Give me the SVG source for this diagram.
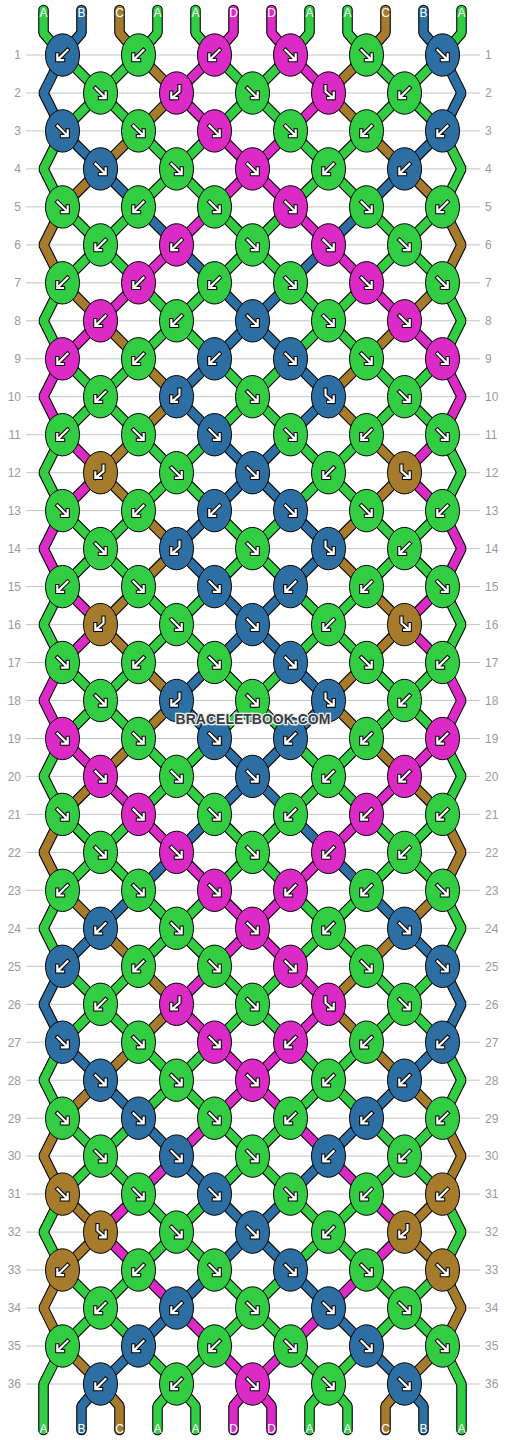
<svg xmlns="http://www.w3.org/2000/svg" xmlns:xlink="http://www.w3.org/1999/xlink" width="506" height="1440" viewBox="0 0 506 1440">
<style>
.grid line{stroke:#c4c4c4;stroke-width:1}
.rl{font-family:"Liberation Sans",Arial,sans-serif;font-size:12px;fill:#9a9a9a}
.rl.l{text-anchor:end}
.sl{font-family:"Liberation Sans",Arial,sans-serif;font-size:12px;fill:#fff;text-anchor:middle}
.so{fill:none;stroke:#000;stroke-width:10.6;stroke-linejoin:bevel;stroke-linecap:round}
.s{fill:none;stroke-width:8.4;stroke-linejoin:bevel;stroke-linecap:round}
.sA{stroke:#32cd43}.sB{stroke:#2e6fa3}.sC{stroke:#a67c2c}.sD{stroke:#dc2ac7}
.g{fill:#32cd43}.b{fill:#2e6fa3}.c{fill:#a67c2c}.d{fill:#dc2ac7}
.ke{stroke:#000;stroke-width:1}
.ao{fill:none;stroke:#000;stroke-width:4.2;stroke-linecap:square}
.aw{fill:none;stroke:#fff;stroke-width:2.2;stroke-linecap:square}
.wm{font-family:"Liberation Sans",Arial,sans-serif;font-weight:bold;font-size:14px;fill:#3c3c3c;stroke:#eef3f8;stroke-width:2.6;paint-order:stroke;text-anchor:middle}
</style>
<defs>
<ellipse id="e" class="ke" rx="17" ry="21.2"/>
<path id="pF" d="M-5,-5L4.6,4.6M5.2,-0.6V5.2H-0.6"/>
<path id="pB" d="M5,-5L-4.6,4.6M-5.2,-0.6V5.2H0.6"/>
<path id="pFB" d="M-3,-7V-1.5L4.6,5M5.2,-0.4V5.2H-0.4"/>
<path id="pBF" d="M3,-7V-1.5L-4.6,5M-5.2,-0.4V5.2H0.4"/>
<g id="F"><use href="#pF" class="ao"/><use href="#pF" class="aw"/></g>
<g id="B"><use href="#pB" class="ao"/><use href="#pB" class="aw"/></g>
<g id="FB"><use href="#pFB" class="ao"/><use href="#pFB" class="aw"/></g>
<g id="BF"><use href="#pBF" class="ao"/><use href="#pBF" class="aw"/></g>
<path id="p0" d="M43.5,10V33L62.5,55L442.5,434.7L461.5,472.7L442.5,510.6L62.5,890.3L43.5,928.3L62.5,966.3L442.5,1346L461.5,1384V1430"/>
<path id="p1" d="M81.5,10V33L62.5,55L43.5,93L62.5,130.9L328.5,396.7L176.5,548.6L328.5,700.5L62.5,966.3L43.5,1004.3L62.5,1042.2L404.5,1384L423.5,1406V1430"/>
<path id="p2" d="M119.5,10V33L138.5,55L176.5,93L62.5,206.9L43.5,244.9L62.5,282.8L176.5,396.7L100.5,472.7L176.5,548.6L100.5,624.6L176.5,700.5L62.5,814.4L43.5,852.4L62.5,890.3L176.5,1004.3L62.5,1118.2L43.5,1156.1L62.5,1194.1L100.5,1232.1L62.5,1270L43.5,1308L62.5,1346L100.5,1384L119.5,1406V1430"/>
<path id="p3" d="M157.5,10V33L138.5,55L62.5,130.9L43.5,168.9L62.5,206.9L442.5,586.6L461.5,624.6L442.5,662.5L62.5,1042.2L43.5,1080.2L62.5,1118.2L328.5,1384L347.5,1406V1430"/>
<path id="p4" d="M195.5,10V33L214.5,55L442.5,282.8L461.5,320.8L442.5,358.8L62.5,738.5L43.5,776.4L62.5,814.4L442.5,1194.1L461.5,1232.1L442.5,1270L328.5,1384L309.5,1406V1430"/>
<path id="p5" d="M233.5,10V33L214.5,55L176.5,93L214.5,130.9L442.5,358.8L461.5,396.7L442.5,434.7L404.5,472.7L442.5,510.6L461.5,548.6L442.5,586.6L404.5,624.6L442.5,662.5L461.5,700.5L442.5,738.5L176.5,1004.3L404.5,1232.1L252.5,1384L233.5,1406V1430"/>
<path id="p6" d="M271.5,10V33L290.5,55L328.5,93L62.5,358.8L43.5,396.7L62.5,434.7L100.5,472.7L62.5,510.6L43.5,548.6L62.5,586.6L100.5,624.6L62.5,662.5L43.5,700.5L62.5,738.5L328.5,1004.3L100.5,1232.1L252.5,1384L271.5,1406V1430"/>
<path id="p7" d="M309.5,10V33L290.5,55L62.5,282.8L43.5,320.8L62.5,358.8L442.5,738.5L461.5,776.4L442.5,814.4L62.5,1194.1L43.5,1232.1L62.5,1270L176.5,1384L195.5,1406V1430"/>
<path id="p8" d="M347.5,10V33L366.5,55L442.5,130.9L461.5,168.9L442.5,206.9L62.5,586.6L43.5,624.6L62.5,662.5L442.5,1042.2L461.5,1080.2L442.5,1118.2L176.5,1384L157.5,1406V1430"/>
<path id="p9" d="M385.5,10V33L366.5,55L328.5,93L442.5,206.9L461.5,244.9L442.5,282.8L328.5,396.7L404.5,472.7L328.5,548.6L404.5,624.6L328.5,700.5L442.5,814.4L461.5,852.4L442.5,890.3L328.5,1004.3L442.5,1118.2L461.5,1156.1L442.5,1194.1L404.5,1232.1L442.5,1270L461.5,1308L442.5,1346L404.5,1384L385.5,1406V1430"/>
<path id="p10" d="M423.5,10V33L442.5,55L461.5,93L442.5,130.9L176.5,396.7L328.5,548.6L176.5,700.5L442.5,966.3L461.5,1004.3L442.5,1042.2L100.5,1384L81.5,1406V1430"/>
<path id="p11" d="M461.5,10V33L442.5,55L62.5,434.7L43.5,472.7L62.5,510.6L442.5,890.3L461.5,928.3L442.5,966.3L62.5,1346L43.5,1384V1430"/>
</defs>
<rect width="506" height="1440" fill="#fff"/>
<g class="grid">
<line x1="26" x2="480" y1="55" y2="55"/><line x1="26" x2="480" y1="93" y2="93"/><line x1="26" x2="480" y1="130.9" y2="130.9"/><line x1="26" x2="480" y1="168.9" y2="168.9"/><line x1="26" x2="480" y1="206.9" y2="206.9"/><line x1="26" x2="480" y1="244.9" y2="244.9"/><line x1="26" x2="480" y1="282.8" y2="282.8"/><line x1="26" x2="480" y1="320.8" y2="320.8"/><line x1="26" x2="480" y1="358.8" y2="358.8"/><line x1="26" x2="480" y1="396.7" y2="396.7"/><line x1="26" x2="480" y1="434.7" y2="434.7"/><line x1="26" x2="480" y1="472.7" y2="472.7"/><line x1="26" x2="480" y1="510.6" y2="510.6"/><line x1="26" x2="480" y1="548.6" y2="548.6"/><line x1="26" x2="480" y1="586.6" y2="586.6"/><line x1="26" x2="480" y1="624.6" y2="624.6"/><line x1="26" x2="480" y1="662.5" y2="662.5"/><line x1="26" x2="480" y1="700.5" y2="700.5"/><line x1="26" x2="480" y1="738.5" y2="738.5"/><line x1="26" x2="480" y1="776.4" y2="776.4"/><line x1="26" x2="480" y1="814.4" y2="814.4"/><line x1="26" x2="480" y1="852.4" y2="852.4"/><line x1="26" x2="480" y1="890.3" y2="890.3"/><line x1="26" x2="480" y1="928.3" y2="928.3"/><line x1="26" x2="480" y1="966.3" y2="966.3"/><line x1="26" x2="480" y1="1004.3" y2="1004.3"/><line x1="26" x2="480" y1="1042.2" y2="1042.2"/><line x1="26" x2="480" y1="1080.2" y2="1080.2"/><line x1="26" x2="480" y1="1118.2" y2="1118.2"/><line x1="26" x2="480" y1="1156.1" y2="1156.1"/><line x1="26" x2="480" y1="1194.1" y2="1194.1"/><line x1="26" x2="480" y1="1232.1" y2="1232.1"/><line x1="26" x2="480" y1="1270" y2="1270"/><line x1="26" x2="480" y1="1308" y2="1308"/><line x1="26" x2="480" y1="1346" y2="1346"/><line x1="26" x2="480" y1="1384" y2="1384"/>
</g>
<g id="row-labels">
<text class="rl l" x="21" y="59.3">1</text><text class="rl" x="485" y="59.3">1</text>
<text class="rl l" x="21" y="97.3">2</text><text class="rl" x="485" y="97.3">2</text>
<text class="rl l" x="21" y="135.2">3</text><text class="rl" x="485" y="135.2">3</text>
<text class="rl l" x="21" y="173.2">4</text><text class="rl" x="485" y="173.2">4</text>
<text class="rl l" x="21" y="211.2">5</text><text class="rl" x="485" y="211.2">5</text>
<text class="rl l" x="21" y="249.2">6</text><text class="rl" x="485" y="249.2">6</text>
<text class="rl l" x="21" y="287.1">7</text><text class="rl" x="485" y="287.1">7</text>
<text class="rl l" x="21" y="325.1">8</text><text class="rl" x="485" y="325.1">8</text>
<text class="rl l" x="21" y="363.1">9</text><text class="rl" x="485" y="363.1">9</text>
<text class="rl l" x="21" y="401">10</text><text class="rl" x="485" y="401">10</text>
<text class="rl l" x="21" y="439">11</text><text class="rl" x="485" y="439">11</text>
<text class="rl l" x="21" y="477">12</text><text class="rl" x="485" y="477">12</text>
<text class="rl l" x="21" y="514.9">13</text><text class="rl" x="485" y="514.9">13</text>
<text class="rl l" x="21" y="552.9">14</text><text class="rl" x="485" y="552.9">14</text>
<text class="rl l" x="21" y="590.9">15</text><text class="rl" x="485" y="590.9">15</text>
<text class="rl l" x="21" y="628.9">16</text><text class="rl" x="485" y="628.9">16</text>
<text class="rl l" x="21" y="666.8">17</text><text class="rl" x="485" y="666.8">17</text>
<text class="rl l" x="21" y="704.8">18</text><text class="rl" x="485" y="704.8">18</text>
<text class="rl l" x="21" y="742.8">19</text><text class="rl" x="485" y="742.8">19</text>
<text class="rl l" x="21" y="780.7">20</text><text class="rl" x="485" y="780.7">20</text>
<text class="rl l" x="21" y="818.7">21</text><text class="rl" x="485" y="818.7">21</text>
<text class="rl l" x="21" y="856.7">22</text><text class="rl" x="485" y="856.7">22</text>
<text class="rl l" x="21" y="894.6">23</text><text class="rl" x="485" y="894.6">23</text>
<text class="rl l" x="21" y="932.6">24</text><text class="rl" x="485" y="932.6">24</text>
<text class="rl l" x="21" y="970.6">25</text><text class="rl" x="485" y="970.6">25</text>
<text class="rl l" x="21" y="1008.6">26</text><text class="rl" x="485" y="1008.6">26</text>
<text class="rl l" x="21" y="1046.5">27</text><text class="rl" x="485" y="1046.5">27</text>
<text class="rl l" x="21" y="1084.5">28</text><text class="rl" x="485" y="1084.5">28</text>
<text class="rl l" x="21" y="1122.5">29</text><text class="rl" x="485" y="1122.5">29</text>
<text class="rl l" x="21" y="1160.4">30</text><text class="rl" x="485" y="1160.4">30</text>
<text class="rl l" x="21" y="1198.4">31</text><text class="rl" x="485" y="1198.4">31</text>
<text class="rl l" x="21" y="1236.4">32</text><text class="rl" x="485" y="1236.4">32</text>
<text class="rl l" x="21" y="1274.3">33</text><text class="rl" x="485" y="1274.3">33</text>
<text class="rl l" x="21" y="1312.3">34</text><text class="rl" x="485" y="1312.3">34</text>
<text class="rl l" x="21" y="1350.3">35</text><text class="rl" x="485" y="1350.3">35</text>
<text class="rl l" x="21" y="1388.3">36</text><text class="rl" x="485" y="1388.3">36</text>
</g>
<g id="connectors">
<g id="string-1"><use href="#p0" class="so"/><use href="#p0" class="s sA"/></g>
<g id="string-2"><use href="#p1" class="so"/><use href="#p1" class="s sB"/></g>
<g id="string-3"><use href="#p2" class="so"/><use href="#p2" class="s sC"/></g>
<g id="string-4"><use href="#p3" class="so"/><use href="#p3" class="s sA"/></g>
<g id="string-5"><use href="#p4" class="so"/><use href="#p4" class="s sA"/></g>
<g id="string-6"><use href="#p5" class="so"/><use href="#p5" class="s sD"/></g>
<g id="string-7"><use href="#p6" class="so"/><use href="#p6" class="s sD"/></g>
<g id="string-8"><use href="#p7" class="so"/><use href="#p7" class="s sA"/></g>
<g id="string-9"><use href="#p8" class="so"/><use href="#p8" class="s sA"/></g>
<g id="string-10"><use href="#p9" class="so"/><use href="#p9" class="s sC"/></g>
<g id="string-11"><use href="#p10" class="so"/><use href="#p10" class="s sB"/></g>
<g id="string-12"><use href="#p11" class="so"/><use href="#p11" class="s sA"/></g>
</g>
<g id="string-labels">
<text class="sl" x="43.5" y="17">A</text><text class="sl" x="81.5" y="17">B</text><text class="sl" x="119.5" y="17">C</text><text class="sl" x="157.5" y="17">A</text><text class="sl" x="195.5" y="17">A</text><text class="sl" x="233.5" y="17">D</text><text class="sl" x="271.5" y="17">D</text><text class="sl" x="309.5" y="17">A</text><text class="sl" x="347.5" y="17">A</text><text class="sl" x="385.5" y="17">C</text><text class="sl" x="423.5" y="17">B</text><text class="sl" x="461.5" y="17">A</text>
<text class="sl" x="43.5" y="1432.5">A</text><text class="sl" x="81.5" y="1432.5">B</text><text class="sl" x="119.5" y="1432.5">C</text><text class="sl" x="157.5" y="1432.5">A</text><text class="sl" x="195.5" y="1432.5">A</text><text class="sl" x="233.5" y="1432.5">D</text><text class="sl" x="271.5" y="1432.5">D</text><text class="sl" x="309.5" y="1432.5">A</text><text class="sl" x="347.5" y="1432.5">A</text><text class="sl" x="385.5" y="1432.5">C</text><text class="sl" x="423.5" y="1432.5">B</text><text class="sl" x="461.5" y="1432.5">A</text>
</g>
<g id="knots">
<g id="k1-1" class="b" transform="translate(62.5 55)"><use href="#e"/><use href="#B"/></g>
<g id="k1-2" class="g" transform="translate(138.5 55)"><use href="#e"/><use href="#B"/></g>
<g id="k1-3" class="d" transform="translate(214.5 55)"><use href="#e"/><use href="#B"/></g>
<g id="k1-4" class="d" transform="translate(290.5 55)"><use href="#e"/><use href="#F"/></g>
<g id="k1-5" class="g" transform="translate(366.5 55)"><use href="#e"/><use href="#F"/></g>
<g id="k1-6" class="b" transform="translate(442.5 55)"><use href="#e"/><use href="#F"/></g>
<g id="k2-1" class="g" transform="translate(100.5 93)"><use href="#e"/><use href="#F"/></g>
<g id="k2-2" class="d" transform="translate(176.5 93)"><use href="#e"/><use href="#BF"/></g>
<g id="k2-3" class="g" transform="translate(252.5 93)"><use href="#e"/><use href="#F"/></g>
<g id="k2-4" class="d" transform="translate(328.5 93)"><use href="#e"/><use href="#FB"/></g>
<g id="k2-5" class="g" transform="translate(404.5 93)"><use href="#e"/><use href="#B"/></g>
<g id="k3-1" class="b" transform="translate(62.5 130.9)"><use href="#e"/><use href="#F"/></g>
<g id="k3-2" class="g" transform="translate(138.5 130.9)"><use href="#e"/><use href="#F"/></g>
<g id="k3-3" class="d" transform="translate(214.5 130.9)"><use href="#e"/><use href="#F"/></g>
<g id="k3-4" class="g" transform="translate(290.5 130.9)"><use href="#e"/><use href="#F"/></g>
<g id="k3-5" class="g" transform="translate(366.5 130.9)"><use href="#e"/><use href="#B"/></g>
<g id="k3-6" class="b" transform="translate(442.5 130.9)"><use href="#e"/><use href="#B"/></g>
<g id="k4-1" class="b" transform="translate(100.5 168.9)"><use href="#e"/><use href="#F"/></g>
<g id="k4-2" class="g" transform="translate(176.5 168.9)"><use href="#e"/><use href="#F"/></g>
<g id="k4-3" class="d" transform="translate(252.5 168.9)"><use href="#e"/><use href="#F"/></g>
<g id="k4-4" class="g" transform="translate(328.5 168.9)"><use href="#e"/><use href="#B"/></g>
<g id="k4-5" class="b" transform="translate(404.5 168.9)"><use href="#e"/><use href="#B"/></g>
<g id="k5-1" class="g" transform="translate(62.5 206.9)"><use href="#e"/><use href="#F"/></g>
<g id="k5-2" class="g" transform="translate(138.5 206.9)"><use href="#e"/><use href="#B"/></g>
<g id="k5-3" class="g" transform="translate(214.5 206.9)"><use href="#e"/><use href="#F"/></g>
<g id="k5-4" class="d" transform="translate(290.5 206.9)"><use href="#e"/><use href="#F"/></g>
<g id="k5-5" class="g" transform="translate(366.5 206.9)"><use href="#e"/><use href="#F"/></g>
<g id="k5-6" class="g" transform="translate(442.5 206.9)"><use href="#e"/><use href="#B"/></g>
<g id="k6-1" class="g" transform="translate(100.5 244.9)"><use href="#e"/><use href="#B"/></g>
<g id="k6-2" class="d" transform="translate(176.5 244.9)"><use href="#e"/><use href="#B"/></g>
<g id="k6-3" class="g" transform="translate(252.5 244.9)"><use href="#e"/><use href="#F"/></g>
<g id="k6-4" class="d" transform="translate(328.5 244.9)"><use href="#e"/><use href="#F"/></g>
<g id="k6-5" class="g" transform="translate(404.5 244.9)"><use href="#e"/><use href="#F"/></g>
<g id="k7-1" class="g" transform="translate(62.5 282.8)"><use href="#e"/><use href="#B"/></g>
<g id="k7-2" class="d" transform="translate(138.5 282.8)"><use href="#e"/><use href="#B"/></g>
<g id="k7-3" class="g" transform="translate(214.5 282.8)"><use href="#e"/><use href="#B"/></g>
<g id="k7-4" class="g" transform="translate(290.5 282.8)"><use href="#e"/><use href="#F"/></g>
<g id="k7-5" class="d" transform="translate(366.5 282.8)"><use href="#e"/><use href="#F"/></g>
<g id="k7-6" class="g" transform="translate(442.5 282.8)"><use href="#e"/><use href="#F"/></g>
<g id="k8-1" class="d" transform="translate(100.5 320.8)"><use href="#e"/><use href="#B"/></g>
<g id="k8-2" class="g" transform="translate(176.5 320.8)"><use href="#e"/><use href="#B"/></g>
<g id="k8-3" class="b" transform="translate(252.5 320.8)"><use href="#e"/><use href="#F"/></g>
<g id="k8-4" class="g" transform="translate(328.5 320.8)"><use href="#e"/><use href="#F"/></g>
<g id="k8-5" class="d" transform="translate(404.5 320.8)"><use href="#e"/><use href="#F"/></g>
<g id="k9-1" class="d" transform="translate(62.5 358.8)"><use href="#e"/><use href="#B"/></g>
<g id="k9-2" class="g" transform="translate(138.5 358.8)"><use href="#e"/><use href="#B"/></g>
<g id="k9-3" class="b" transform="translate(214.5 358.8)"><use href="#e"/><use href="#B"/></g>
<g id="k9-4" class="b" transform="translate(290.5 358.8)"><use href="#e"/><use href="#F"/></g>
<g id="k9-5" class="g" transform="translate(366.5 358.8)"><use href="#e"/><use href="#F"/></g>
<g id="k9-6" class="d" transform="translate(442.5 358.8)"><use href="#e"/><use href="#F"/></g>
<g id="k10-1" class="g" transform="translate(100.5 396.7)"><use href="#e"/><use href="#B"/></g>
<g id="k10-2" class="b" transform="translate(176.5 396.7)"><use href="#e"/><use href="#BF"/></g>
<g id="k10-3" class="g" transform="translate(252.5 396.7)"><use href="#e"/><use href="#F"/></g>
<g id="k10-4" class="b" transform="translate(328.5 396.7)"><use href="#e"/><use href="#FB"/></g>
<g id="k10-5" class="g" transform="translate(404.5 396.7)"><use href="#e"/><use href="#F"/></g>
<g id="k11-1" class="g" transform="translate(62.5 434.7)"><use href="#e"/><use href="#B"/></g>
<g id="k11-2" class="g" transform="translate(138.5 434.7)"><use href="#e"/><use href="#F"/></g>
<g id="k11-3" class="b" transform="translate(214.5 434.7)"><use href="#e"/><use href="#F"/></g>
<g id="k11-4" class="g" transform="translate(290.5 434.7)"><use href="#e"/><use href="#F"/></g>
<g id="k11-5" class="g" transform="translate(366.5 434.7)"><use href="#e"/><use href="#B"/></g>
<g id="k11-6" class="g" transform="translate(442.5 434.7)"><use href="#e"/><use href="#F"/></g>
<g id="k12-1" class="c" transform="translate(100.5 472.7)"><use href="#e"/><use href="#BF"/></g>
<g id="k12-2" class="g" transform="translate(176.5 472.7)"><use href="#e"/><use href="#F"/></g>
<g id="k12-3" class="b" transform="translate(252.5 472.7)"><use href="#e"/><use href="#F"/></g>
<g id="k12-4" class="g" transform="translate(328.5 472.7)"><use href="#e"/><use href="#B"/></g>
<g id="k12-5" class="c" transform="translate(404.5 472.7)"><use href="#e"/><use href="#FB"/></g>
<g id="k13-1" class="g" transform="translate(62.5 510.6)"><use href="#e"/><use href="#F"/></g>
<g id="k13-2" class="g" transform="translate(138.5 510.6)"><use href="#e"/><use href="#B"/></g>
<g id="k13-3" class="b" transform="translate(214.5 510.6)"><use href="#e"/><use href="#B"/></g>
<g id="k13-4" class="b" transform="translate(290.5 510.6)"><use href="#e"/><use href="#F"/></g>
<g id="k13-5" class="g" transform="translate(366.5 510.6)"><use href="#e"/><use href="#F"/></g>
<g id="k13-6" class="g" transform="translate(442.5 510.6)"><use href="#e"/><use href="#B"/></g>
<g id="k14-1" class="g" transform="translate(100.5 548.6)"><use href="#e"/><use href="#F"/></g>
<g id="k14-2" class="b" transform="translate(176.5 548.6)"><use href="#e"/><use href="#BF"/></g>
<g id="k14-3" class="g" transform="translate(252.5 548.6)"><use href="#e"/><use href="#F"/></g>
<g id="k14-4" class="b" transform="translate(328.5 548.6)"><use href="#e"/><use href="#FB"/></g>
<g id="k14-5" class="g" transform="translate(404.5 548.6)"><use href="#e"/><use href="#B"/></g>
<g id="k15-1" class="g" transform="translate(62.5 586.6)"><use href="#e"/><use href="#B"/></g>
<g id="k15-2" class="g" transform="translate(138.5 586.6)"><use href="#e"/><use href="#F"/></g>
<g id="k15-3" class="b" transform="translate(214.5 586.6)"><use href="#e"/><use href="#F"/></g>
<g id="k15-4" class="b" transform="translate(290.5 586.6)"><use href="#e"/><use href="#B"/></g>
<g id="k15-5" class="g" transform="translate(366.5 586.6)"><use href="#e"/><use href="#B"/></g>
<g id="k15-6" class="g" transform="translate(442.5 586.6)"><use href="#e"/><use href="#F"/></g>
<g id="k16-1" class="c" transform="translate(100.5 624.6)"><use href="#e"/><use href="#BF"/></g>
<g id="k16-2" class="g" transform="translate(176.5 624.6)"><use href="#e"/><use href="#F"/></g>
<g id="k16-3" class="b" transform="translate(252.5 624.6)"><use href="#e"/><use href="#F"/></g>
<g id="k16-4" class="g" transform="translate(328.5 624.6)"><use href="#e"/><use href="#B"/></g>
<g id="k16-5" class="c" transform="translate(404.5 624.6)"><use href="#e"/><use href="#FB"/></g>
<g id="k17-1" class="g" transform="translate(62.5 662.5)"><use href="#e"/><use href="#F"/></g>
<g id="k17-2" class="g" transform="translate(138.5 662.5)"><use href="#e"/><use href="#B"/></g>
<g id="k17-3" class="g" transform="translate(214.5 662.5)"><use href="#e"/><use href="#F"/></g>
<g id="k17-4" class="b" transform="translate(290.5 662.5)"><use href="#e"/><use href="#F"/></g>
<g id="k17-5" class="g" transform="translate(366.5 662.5)"><use href="#e"/><use href="#F"/></g>
<g id="k17-6" class="g" transform="translate(442.5 662.5)"><use href="#e"/><use href="#B"/></g>
<g id="k18-1" class="g" transform="translate(100.5 700.5)"><use href="#e"/><use href="#F"/></g>
<g id="k18-2" class="b" transform="translate(176.5 700.5)"><use href="#e"/><use href="#BF"/></g>
<g id="k18-3" class="g" transform="translate(252.5 700.5)"><use href="#e"/><use href="#F"/></g>
<g id="k18-4" class="b" transform="translate(328.5 700.5)"><use href="#e"/><use href="#FB"/></g>
<g id="k18-5" class="g" transform="translate(404.5 700.5)"><use href="#e"/><use href="#B"/></g>
<g id="k19-1" class="d" transform="translate(62.5 738.5)"><use href="#e"/><use href="#F"/></g>
<g id="k19-2" class="g" transform="translate(138.5 738.5)"><use href="#e"/><use href="#F"/></g>
<g id="k19-3" class="b" transform="translate(214.5 738.5)"><use href="#e"/><use href="#F"/></g>
<g id="k19-4" class="b" transform="translate(290.5 738.5)"><use href="#e"/><use href="#B"/></g>
<g id="k19-5" class="g" transform="translate(366.5 738.5)"><use href="#e"/><use href="#B"/></g>
<g id="k19-6" class="d" transform="translate(442.5 738.5)"><use href="#e"/><use href="#B"/></g>
<g id="k20-1" class="d" transform="translate(100.5 776.4)"><use href="#e"/><use href="#F"/></g>
<g id="k20-2" class="g" transform="translate(176.5 776.4)"><use href="#e"/><use href="#F"/></g>
<g id="k20-3" class="b" transform="translate(252.5 776.4)"><use href="#e"/><use href="#F"/></g>
<g id="k20-4" class="g" transform="translate(328.5 776.4)"><use href="#e"/><use href="#B"/></g>
<g id="k20-5" class="d" transform="translate(404.5 776.4)"><use href="#e"/><use href="#B"/></g>
<g id="k21-1" class="g" transform="translate(62.5 814.4)"><use href="#e"/><use href="#F"/></g>
<g id="k21-2" class="d" transform="translate(138.5 814.4)"><use href="#e"/><use href="#F"/></g>
<g id="k21-3" class="g" transform="translate(214.5 814.4)"><use href="#e"/><use href="#F"/></g>
<g id="k21-4" class="g" transform="translate(290.5 814.4)"><use href="#e"/><use href="#B"/></g>
<g id="k21-5" class="d" transform="translate(366.5 814.4)"><use href="#e"/><use href="#B"/></g>
<g id="k21-6" class="g" transform="translate(442.5 814.4)"><use href="#e"/><use href="#B"/></g>
<g id="k22-1" class="g" transform="translate(100.5 852.4)"><use href="#e"/><use href="#F"/></g>
<g id="k22-2" class="d" transform="translate(176.5 852.4)"><use href="#e"/><use href="#F"/></g>
<g id="k22-3" class="g" transform="translate(252.5 852.4)"><use href="#e"/><use href="#F"/></g>
<g id="k22-4" class="d" transform="translate(328.5 852.4)"><use href="#e"/><use href="#B"/></g>
<g id="k22-5" class="g" transform="translate(404.5 852.4)"><use href="#e"/><use href="#B"/></g>
<g id="k23-1" class="g" transform="translate(62.5 890.3)"><use href="#e"/><use href="#B"/></g>
<g id="k23-2" class="g" transform="translate(138.5 890.3)"><use href="#e"/><use href="#F"/></g>
<g id="k23-3" class="d" transform="translate(214.5 890.3)"><use href="#e"/><use href="#F"/></g>
<g id="k23-4" class="d" transform="translate(290.5 890.3)"><use href="#e"/><use href="#B"/></g>
<g id="k23-5" class="g" transform="translate(366.5 890.3)"><use href="#e"/><use href="#B"/></g>
<g id="k23-6" class="g" transform="translate(442.5 890.3)"><use href="#e"/><use href="#F"/></g>
<g id="k24-1" class="b" transform="translate(100.5 928.3)"><use href="#e"/><use href="#B"/></g>
<g id="k24-2" class="g" transform="translate(176.5 928.3)"><use href="#e"/><use href="#F"/></g>
<g id="k24-3" class="d" transform="translate(252.5 928.3)"><use href="#e"/><use href="#F"/></g>
<g id="k24-4" class="g" transform="translate(328.5 928.3)"><use href="#e"/><use href="#B"/></g>
<g id="k24-5" class="b" transform="translate(404.5 928.3)"><use href="#e"/><use href="#F"/></g>
<g id="k25-1" class="b" transform="translate(62.5 966.3)"><use href="#e"/><use href="#B"/></g>
<g id="k25-2" class="g" transform="translate(138.5 966.3)"><use href="#e"/><use href="#B"/></g>
<g id="k25-3" class="g" transform="translate(214.5 966.3)"><use href="#e"/><use href="#F"/></g>
<g id="k25-4" class="d" transform="translate(290.5 966.3)"><use href="#e"/><use href="#F"/></g>
<g id="k25-5" class="g" transform="translate(366.5 966.3)"><use href="#e"/><use href="#F"/></g>
<g id="k25-6" class="b" transform="translate(442.5 966.3)"><use href="#e"/><use href="#F"/></g>
<g id="k26-1" class="g" transform="translate(100.5 1004.3)"><use href="#e"/><use href="#B"/></g>
<g id="k26-2" class="d" transform="translate(176.5 1004.3)"><use href="#e"/><use href="#BF"/></g>
<g id="k26-3" class="g" transform="translate(252.5 1004.3)"><use href="#e"/><use href="#F"/></g>
<g id="k26-4" class="d" transform="translate(328.5 1004.3)"><use href="#e"/><use href="#FB"/></g>
<g id="k26-5" class="g" transform="translate(404.5 1004.3)"><use href="#e"/><use href="#F"/></g>
<g id="k27-1" class="b" transform="translate(62.5 1042.2)"><use href="#e"/><use href="#F"/></g>
<g id="k27-2" class="g" transform="translate(138.5 1042.2)"><use href="#e"/><use href="#F"/></g>
<g id="k27-3" class="d" transform="translate(214.5 1042.2)"><use href="#e"/><use href="#F"/></g>
<g id="k27-4" class="d" transform="translate(290.5 1042.2)"><use href="#e"/><use href="#B"/></g>
<g id="k27-5" class="g" transform="translate(366.5 1042.2)"><use href="#e"/><use href="#B"/></g>
<g id="k27-6" class="b" transform="translate(442.5 1042.2)"><use href="#e"/><use href="#B"/></g>
<g id="k28-1" class="b" transform="translate(100.5 1080.2)"><use href="#e"/><use href="#F"/></g>
<g id="k28-2" class="g" transform="translate(176.5 1080.2)"><use href="#e"/><use href="#F"/></g>
<g id="k28-3" class="d" transform="translate(252.5 1080.2)"><use href="#e"/><use href="#F"/></g>
<g id="k28-4" class="g" transform="translate(328.5 1080.2)"><use href="#e"/><use href="#B"/></g>
<g id="k28-5" class="b" transform="translate(404.5 1080.2)"><use href="#e"/><use href="#B"/></g>
<g id="k29-1" class="g" transform="translate(62.5 1118.2)"><use href="#e"/><use href="#F"/></g>
<g id="k29-2" class="b" transform="translate(138.5 1118.2)"><use href="#e"/><use href="#F"/></g>
<g id="k29-3" class="g" transform="translate(214.5 1118.2)"><use href="#e"/><use href="#F"/></g>
<g id="k29-4" class="g" transform="translate(290.5 1118.2)"><use href="#e"/><use href="#B"/></g>
<g id="k29-5" class="b" transform="translate(366.5 1118.2)"><use href="#e"/><use href="#B"/></g>
<g id="k29-6" class="g" transform="translate(442.5 1118.2)"><use href="#e"/><use href="#B"/></g>
<g id="k30-1" class="g" transform="translate(100.5 1156.1)"><use href="#e"/><use href="#F"/></g>
<g id="k30-2" class="b" transform="translate(176.5 1156.1)"><use href="#e"/><use href="#F"/></g>
<g id="k30-3" class="g" transform="translate(252.5 1156.1)"><use href="#e"/><use href="#F"/></g>
<g id="k30-4" class="b" transform="translate(328.5 1156.1)"><use href="#e"/><use href="#B"/></g>
<g id="k30-5" class="g" transform="translate(404.5 1156.1)"><use href="#e"/><use href="#B"/></g>
<g id="k31-1" class="c" transform="translate(62.5 1194.1)"><use href="#e"/><use href="#F"/></g>
<g id="k31-2" class="g" transform="translate(138.5 1194.1)"><use href="#e"/><use href="#F"/></g>
<g id="k31-3" class="b" transform="translate(214.5 1194.1)"><use href="#e"/><use href="#F"/></g>
<g id="k31-4" class="g" transform="translate(290.5 1194.1)"><use href="#e"/><use href="#F"/></g>
<g id="k31-5" class="g" transform="translate(366.5 1194.1)"><use href="#e"/><use href="#B"/></g>
<g id="k31-6" class="c" transform="translate(442.5 1194.1)"><use href="#e"/><use href="#B"/></g>
<g id="k32-1" class="c" transform="translate(100.5 1232.1)"><use href="#e"/><use href="#FB"/></g>
<g id="k32-2" class="g" transform="translate(176.5 1232.1)"><use href="#e"/><use href="#F"/></g>
<g id="k32-3" class="b" transform="translate(252.5 1232.1)"><use href="#e"/><use href="#F"/></g>
<g id="k32-4" class="g" transform="translate(328.5 1232.1)"><use href="#e"/><use href="#B"/></g>
<g id="k32-5" class="c" transform="translate(404.5 1232.1)"><use href="#e"/><use href="#BF"/></g>
<g id="k33-1" class="c" transform="translate(62.5 1270)"><use href="#e"/><use href="#B"/></g>
<g id="k33-2" class="g" transform="translate(138.5 1270)"><use href="#e"/><use href="#B"/></g>
<g id="k33-3" class="g" transform="translate(214.5 1270)"><use href="#e"/><use href="#F"/></g>
<g id="k33-4" class="b" transform="translate(290.5 1270)"><use href="#e"/><use href="#F"/></g>
<g id="k33-5" class="g" transform="translate(366.5 1270)"><use href="#e"/><use href="#F"/></g>
<g id="k33-6" class="c" transform="translate(442.5 1270)"><use href="#e"/><use href="#F"/></g>
<g id="k34-1" class="g" transform="translate(100.5 1308)"><use href="#e"/><use href="#B"/></g>
<g id="k34-2" class="b" transform="translate(176.5 1308)"><use href="#e"/><use href="#B"/></g>
<g id="k34-3" class="g" transform="translate(252.5 1308)"><use href="#e"/><use href="#F"/></g>
<g id="k34-4" class="b" transform="translate(328.5 1308)"><use href="#e"/><use href="#F"/></g>
<g id="k34-5" class="g" transform="translate(404.5 1308)"><use href="#e"/><use href="#F"/></g>
<g id="k35-1" class="g" transform="translate(62.5 1346)"><use href="#e"/><use href="#B"/></g>
<g id="k35-2" class="b" transform="translate(138.5 1346)"><use href="#e"/><use href="#B"/></g>
<g id="k35-3" class="g" transform="translate(214.5 1346)"><use href="#e"/><use href="#B"/></g>
<g id="k35-4" class="g" transform="translate(290.5 1346)"><use href="#e"/><use href="#F"/></g>
<g id="k35-5" class="b" transform="translate(366.5 1346)"><use href="#e"/><use href="#F"/></g>
<g id="k35-6" class="g" transform="translate(442.5 1346)"><use href="#e"/><use href="#F"/></g>
<g id="k36-1" class="b" transform="translate(100.5 1384)"><use href="#e"/><use href="#B"/></g>
<g id="k36-2" class="g" transform="translate(176.5 1384)"><use href="#e"/><use href="#B"/></g>
<g id="k36-3" class="d" transform="translate(252.5 1384)"><use href="#e"/><use href="#F"/></g>
<g id="k36-4" class="g" transform="translate(328.5 1384)"><use href="#e"/><use href="#F"/></g>
<g id="k36-5" class="b" transform="translate(404.5 1384)"><use href="#e"/><use href="#F"/></g>
</g>
<text class="wm" x="253" y="724">BRACELETBOOK.COM</text>
</svg>
